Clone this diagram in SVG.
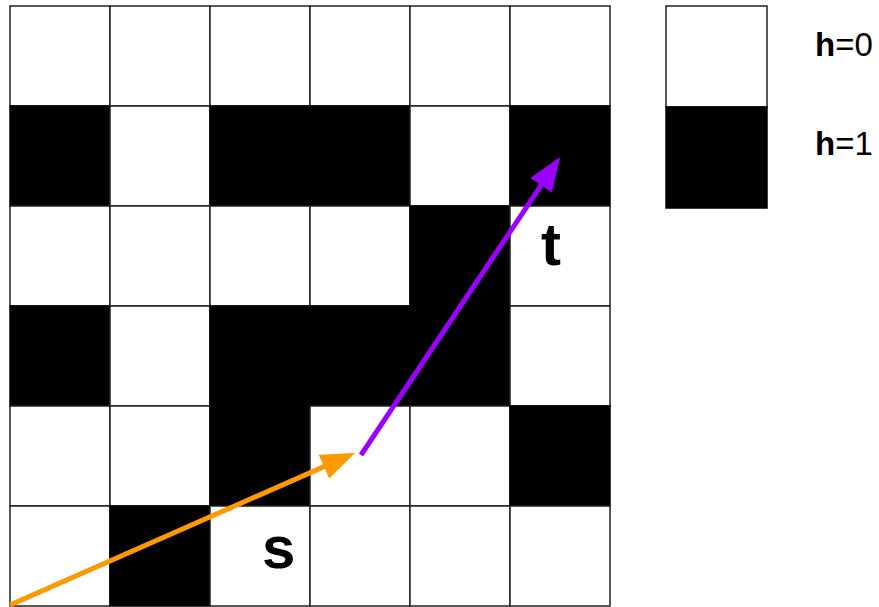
<svg xmlns="http://www.w3.org/2000/svg" width="879" height="607" viewBox="0 0 879 607">
<style>
.w{fill:#fff;stroke:#222;stroke-width:1.5}
.b{fill:#000;stroke:#000;stroke-width:1.5}
.lbl{font-family:"Liberation Sans",Arial,sans-serif;font-weight:bold;font-size:60px;fill:#000}
.leg{font-family:"Liberation Sans",Arial,sans-serif;font-size:33px;fill:#000}
.leg tspan.hb{font-weight:bold}
.orange{stroke:#FF9900;stroke-width:5;fill:none}
.purple{stroke:#9900FF;stroke-width:5;fill:none}
</style>
<defs>
<marker id="hO" markerUnits="userSpaceOnUse" markerWidth="36" markerHeight="28" refX="28" refY="13" orient="auto"><path d="M0,0 L34,13 L0,26 z" fill="#FF9900"/></marker>
<marker id="hP" markerUnits="userSpaceOnUse" markerWidth="36" markerHeight="28" refX="28" refY="13" orient="auto"><path d="M0,0 L34,13 L0,26 z" fill="#9900FF"/></marker>
</defs>
<rect width="879" height="607" fill="#fff"/>
<g id="grid">
<g id="r0">
<rect id="c00" class="w" x="10" y="6" width="100" height="100"/>
<rect id="c01" class="w" x="110" y="6" width="100" height="100"/>
<rect id="c02" class="w" x="210" y="6" width="100" height="100"/>
<rect id="c03" class="w" x="310" y="6" width="100" height="100"/>
<rect id="c04" class="w" x="410" y="6" width="100" height="100"/>
<rect id="c05" class="w" x="510" y="6" width="100" height="100"/>
</g>
<g id="r1">
<rect id="c10" class="b" x="10" y="106" width="100" height="100"/>
<rect id="c11" class="w" x="110" y="106" width="100" height="100"/>
<rect id="c12" class="b" x="210" y="106" width="100" height="100"/>
<rect id="c13" class="b" x="310" y="106" width="100" height="100"/>
<rect id="c14" class="w" x="410" y="106" width="100" height="100"/>
<rect id="c15" class="b" x="510" y="106" width="100" height="100"/>
</g>
<g id="r2">
<rect id="c20" class="w" x="10" y="206" width="100" height="100"/>
<rect id="c21" class="w" x="110" y="206" width="100" height="100"/>
<rect id="c22" class="w" x="210" y="206" width="100" height="100"/>
<rect id="c23" class="w" x="310" y="206" width="100" height="100"/>
<rect id="c24" class="b" x="410" y="206" width="100" height="100"/>
<rect id="c25" class="w" x="510" y="206" width="100" height="100"/>
</g>
<g id="r3">
<rect id="c30" class="b" x="10" y="306" width="100" height="100"/>
<rect id="c31" class="w" x="110" y="306" width="100" height="100"/>
<rect id="c32" class="b" x="210" y="306" width="100" height="100"/>
<rect id="c33" class="b" x="310" y="306" width="100" height="100"/>
<rect id="c34" class="b" x="410" y="306" width="100" height="100"/>
<rect id="c35" class="w" x="510" y="306" width="100" height="100"/>
</g>
<g id="r4">
<rect id="c40" class="w" x="10" y="406" width="100" height="100"/>
<rect id="c41" class="w" x="110" y="406" width="100" height="100"/>
<rect id="c42" class="b" x="210" y="406" width="100" height="100"/>
<rect id="c43" class="w" x="310" y="406" width="100" height="100"/>
<rect id="c44" class="w" x="410" y="406" width="100" height="100"/>
<rect id="c45" class="b" x="510" y="406" width="100" height="100"/>
</g>
<g id="r5">
<rect id="c50" class="w" x="10" y="506" width="100" height="100"/>
<rect id="c51" class="b" x="110" y="506" width="100" height="100"/>
<rect id="c52" class="w" x="210" y="506" width="100" height="100"/>
<rect id="c53" class="w" x="310" y="506" width="100" height="100"/>
<rect id="c54" class="w" x="410" y="506" width="100" height="100"/>
<rect id="c55" class="w" x="510" y="506" width="100" height="100"/>
</g>
</g>
<g id="label-s"><text class="lbl" x="262" y="568">s</text></g>
<g id="label-t"><text class="lbl" x="541" y="265">t</text></g>
<g id="legend-h0">
<rect class="w" x="666" y="6" width="101" height="101"/>
<text class="leg" x="815" y="56"><tspan class="hb">h</tspan>=0</text>
</g>
<g id="legend-h1">
<rect class="b" x="666" y="107" width="101" height="101"/>
<text class="leg" x="815" y="155"><tspan class="hb">h</tspan>=1</text>
</g>
<g id="connectors">
<line class="orange" x1="10" y1="605" x2="349.5" y2="455.4" marker-end="url(#hO)"/>
<line class="purple" x1="361" y1="455" x2="556.7" y2="162" marker-end="url(#hP)"/>
</g>
</svg>
